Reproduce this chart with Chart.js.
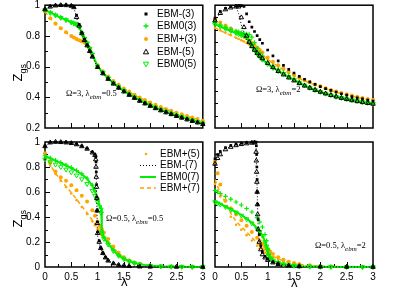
<!DOCTYPE html>
<html>
<head>
<meta charset="utf-8">
<script src="https://cdn.jsdelivr.net/npm/chart.js@4.4.1/dist/chart.umd.min.js"></script>
<style>
  body { margin: 0; background: #fff; }
  #wrap { position: relative; width: 411px; height: 291px; background: #fff; overflow: hidden; }
  canvas { position: absolute; }
  .txt { position: absolute; white-space: nowrap; color: #000; }
  .lg { position: absolute; height: 12px; font: 10px "Liberation Sans", Arial, sans-serif; line-height: 12px; white-space: nowrap; }
  .lg svg { position: absolute; top: 0; left: 0; }
  .lg span { position: absolute; top: 0; white-space: nowrap; }
  .ann { font: 8.5px "Liberation Serif", "Times New Roman", serif; }
  .ann sub { font-size: 7px; font-style: italic; vertical-align: -3px; }
  .ztitle { font: 13px "Liberation Sans", Arial, sans-serif; transform: rotate(-90deg); transform-origin: center; }
  .ztitle sub { font-size: 9px; }
  .lam { font: 13px "Liberation Sans", Arial, sans-serif; }
</style>
</head>
<body>
<div id="wrap">
  <canvas id="cA" width="208" height="134" style="left:0;top:0"></canvas>
  <canvas id="cB" width="203" height="134" style="left:208px;top:0"></canvas>
  <canvas id="cC" width="208" height="157" style="left:0;top:134px"></canvas>
  <canvas id="cD" width="203" height="157" style="left:208px;top:134px"></canvas>

  <div class="txt ztitle" style="left:10px;top:64px">Z<sub>gs</sub></div>
  <div class="txt ztitle" style="left:10px;top:210px">Z<sub>gs</sub></div>
  <div class="txt lam" style="left:121px;top:274px">λ</div>
  <div class="txt lam" style="left:291px;top:275px">λ</div>

  <div class="txt ann" style="left:66px;top:88px">Ω=3, λ<sub>ebm</sub>=0.5</div>
  <div class="txt ann" style="left:256px;top:84px">Ω=3, λ<sub>ebm</sub>=2</div>
  <div class="txt ann" style="left:106px;top:213px">Ω=0.5, λ<sub>ebm</sub>=0.5</div>
  <div class="txt ann" style="left:315px;top:240px">Ω=0.5, λ<sub>ebm</sub>=2</div>

  <div class="lg" style="left:140px;top:8px"><svg width="12" height="12"><rect x="4.5" y="4.5" width="3" height="3" fill="#000"/></svg><span style="left:17px">EBM-(3)</span></div>
  <div class="lg" style="left:140px;top:20px"><svg width="12" height="12"><path d="M6 3.5V8.5M3.5 6H8.5" stroke="#00ee00" stroke-width="1.3"/></svg><span style="left:17px">EBM0(3)</span></div>
  <div class="lg" style="left:140px;top:33px"><svg width="12" height="12"><circle cx="6" cy="6" r="2" fill="#ffa500"/></svg><span style="left:17px">EBM+(3)</span></div>
  <div class="lg" style="left:140px;top:46px"><svg width="12" height="12"><path d="M6 3.2L8.6 7.8H3.4Z" fill="none" stroke="#000" stroke-width="1"/></svg><span style="left:17px">EBM-(5)</span></div>
  <div class="lg" style="left:140px;top:58px"><svg width="12" height="12"><path d="M6 8.8L8.6 4.2H3.4Z" fill="none" stroke="#00ee00" stroke-width="1"/></svg><span style="left:17px">EBM0(5)</span></div>

  <div class="lg" style="left:138px;top:148px"><svg width="20" height="12"><circle cx="8" cy="6" r="1.3" fill="#ffa500"/></svg><span style="left:22px">EBM+(5)</span></div>
  <div class="lg" style="left:138px;top:159px"><svg width="20" height="12"><path d="M2 6.5H18" stroke="#000" stroke-width="1" stroke-dasharray="1,2"/></svg><span style="left:22px">EBM-(7)</span></div>
  <div class="lg" style="left:138px;top:171px"><svg width="20" height="12"><path d="M2 6H18" stroke="#00ee00" stroke-width="2"/></svg><span style="left:22px">EBM0(7)</span></div>
  <div class="lg" style="left:138px;top:182px"><svg width="20" height="12"><path d="M2 6H18" stroke="#ffa500" stroke-width="1.5" stroke-dasharray="4,3"/></svg><span style="left:22px">EBM+(7)</span></div>
</div>

<script>
// ---- data ----
// top-left: Omega=3, lambda_ebm=0.5
const lamA = [0,0.1,0.2,0.3,0.4,0.5,0.55,0.6,0.65,0.7,0.75,0.8,0.85,0.9,1,1.1,1.2,1.3,1.4,1.5,1.6,1.7,1.8,1.9,2,2.1,2.2,2.3,2.4,2.5,2.6,2.7,2.8,2.9,3];
const aM3 = [0.975,0.993,0.998,1,1,0.997,0.99,0.935,0.875,0.822,0.777,0.742,0.703,0.667,0.598,0.557,0.521,0.49,0.463,0.439,0.417,0.397,0.378,0.361,0.345,0.33,0.316,0.303,0.291,0.279,0.268,0.257,0.247,0.237,0.227];
const aM5 = [0.972,0.99,0.997,1,0.999,0.995,0.986,0.922,0.866,0.816,0.772,0.737,0.7,0.664,0.596,0.555,0.519,0.488,0.461,0.437,0.415,0.395,0.376,0.359,0.343,0.328,0.314,0.301,0.289,0.277,0.266,0.255,0.245,0.235,0.225];
const aM7 = [0.972,0.99,0.997,0.999,0.999,0.994,0.984,0.918,0.862,0.813,0.77,0.735,0.698,0.662,0.597,0.556,0.52,0.489,0.462,0.438,0.416,0.396,0.377,0.36,0.344,0.329,0.315,0.302,0.29,0.278,0.267,0.256,0.246,0.236,0.226];
const a03 = [0.97,0.953,0.937,0.921,0.906,0.891,0.884,0.877,0.865,0.822,0.787,0.757,0.722,0.685,0.603,0.562,0.526,0.495,0.468,0.444,0.422,0.402,0.383,0.366,0.35,0.335,0.321,0.308,0.296,0.284,0.273,0.262,0.252,0.242,0.232];
const a05 = [0.968,0.95,0.934,0.918,0.903,0.888,0.881,0.873,0.857,0.815,0.782,0.752,0.717,0.68,0.601,0.56,0.524,0.493,0.466,0.442,0.42,0.4,0.381,0.364,0.348,0.333,0.319,0.306,0.294,0.282,0.271,0.26,0.25,0.24,0.23];
const a07 = [0.968,0.951,0.935,0.919,0.904,0.889,0.882,0.874,0.86,0.818,0.784,0.754,0.719,0.682,0.602,0.561,0.525,0.494,0.467,0.443,0.421,0.401,0.382,0.365,0.349,0.334,0.32,0.307,0.295,0.283,0.272,0.261,0.251,0.241,0.231];
const aP3 = [0.96,0.915,0.88,0.85,0.823,0.8,0.79,0.78,0.772,0.765,0.757,0.742,0.71,0.675,0.608,0.57,0.536,0.507,0.481,0.458,0.437,0.417,0.399,0.382,0.366,0.351,0.337,0.324,0.312,0.3,0.289,0.278,0.268,0.258,0.248];
const aP5 = [0.958,0.912,0.877,0.847,0.82,0.797,0.787,0.777,0.768,0.76,0.752,0.735,0.705,0.672,0.605,0.567,0.533,0.504,0.478,0.455,0.434,0.414,0.396,0.379,0.363,0.348,0.334,0.321,0.309,0.297,0.286,0.275,0.265,0.255,0.245];
const aP7 = [0.958,0.913,0.878,0.848,0.821,0.798,0.788,0.778,0.77,0.762,0.754,0.738,0.707,0.673,0.606,0.568,0.534,0.505,0.479,0.456,0.435,0.415,0.397,0.38,0.364,0.349,0.335,0.322,0.31,0.298,0.287,0.276,0.266,0.256,0.246];

// top-right: Omega=3, lambda_ebm=2
const lamB = [0,0.1,0.2,0.3,0.4,0.45,0.5,0.55,0.6,0.65,0.7,0.75,0.8,0.85,0.9,1,1.1,1.2,1.3,1.4,1.5,1.6,1.7,1.8,1.9,2,2.1,2.2,2.3,2.4,2.5,2.6,2.7,2.8,2.9,3];
const bM3 = [0.895,0.95,0.975,0.988,0.994,0.996,0.996,0.99,0.93,0.865,0.822,0.786,0.752,0.72,0.69,0.635,0.588,0.547,0.51,0.477,0.448,0.421,0.397,0.375,0.355,0.337,0.321,0.306,0.292,0.279,0.267,0.256,0.246,0.237,0.228,0.22];
const bM5 = [0.875,0.935,0.965,0.98,0.988,0.988,0.9,0.82,0.75,0.7,0.665,0.636,0.61,0.587,0.566,0.528,0.494,0.463,0.435,0.41,0.386,0.364,0.344,0.326,0.309,0.294,0.28,0.267,0.255,0.244,0.234,0.225,0.217,0.209,0.202,0.196];
const bM7 = [0.875,0.935,0.965,0.98,0.985,0.93,0.84,0.77,0.72,0.685,0.655,0.628,0.604,0.582,0.562,0.525,0.491,0.46,0.432,0.407,0.384,0.362,0.342,0.324,0.307,0.292,0.278,0.265,0.253,0.242,0.232,0.223,0.215,0.207,0.2,0.194];
const b03 = [0.86,0.84,0.822,0.805,0.79,0.783,0.776,0.77,0.765,0.76,0.74,0.695,0.65,0.615,0.585,0.535,0.505,0.478,0.452,0.425,0.398,0.372,0.35,0.331,0.313,0.297,0.283,0.27,0.258,0.248,0.239,0.231,0.223,0.215,0.208,0.2];
const b05 = [0.845,0.826,0.808,0.79,0.773,0.765,0.757,0.75,0.742,0.71,0.67,0.635,0.605,0.58,0.557,0.52,0.49,0.464,0.44,0.416,0.393,0.369,0.347,0.328,0.31,0.294,0.28,0.267,0.255,0.245,0.236,0.228,0.22,0.212,0.205,0.198];
const b07 = [0.845,0.826,0.808,0.79,0.773,0.765,0.757,0.749,0.74,0.712,0.672,0.637,0.607,0.581,0.558,0.521,0.491,0.465,0.441,0.417,0.393,0.369,0.347,0.328,0.31,0.294,0.28,0.267,0.255,0.245,0.236,0.228,0.22,0.212,0.205,0.198];
const bP3 = [0.885,0.86,0.835,0.81,0.785,0.772,0.76,0.745,0.73,0.712,0.695,0.675,0.655,0.635,0.615,0.575,0.54,0.51,0.482,0.456,0.432,0.41,0.39,0.372,0.355,0.339,0.324,0.31,0.297,0.285,0.274,0.264,0.254,0.245,0.236,0.228];
const bP5 = [0.815,0.795,0.775,0.755,0.735,0.725,0.715,0.705,0.693,0.68,0.665,0.648,0.63,0.612,0.595,0.56,0.53,0.502,0.476,0.451,0.428,0.406,0.386,0.368,0.351,0.335,0.32,0.306,0.293,0.281,0.27,0.26,0.25,0.241,0.232,0.224];
const bP7 = [0.815,0.794,0.774,0.754,0.734,0.724,0.714,0.703,0.692,0.679,0.664,0.647,0.629,0.611,0.594,0.559,0.529,0.501,0.475,0.45,0.427,0.405,0.385,0.367,0.35,0.334,0.319,0.305,0.292,0.28,0.269,0.259,0.249,0.24,0.231,0.223];

// bottom-left: Omega=0.5, lambda_ebm=0.5
const lamC = [0,0.1,0.2,0.3,0.4,0.5,0.6,0.7,0.8,0.9,0.95,1,1.04,1.07,1.08,1.12,1.2,1.3,1.4,1.5,1.6,1.7,1.8,2,2.2,2.4,2.6,2.8,3];
const lamCk = [0,0.1,0.2,0.3,0.4,0.5,0.6,0.7,0.8,0.9,0.95,0.965,0.97,0.975,0.98,0.985,0.99,0.995,1,1.03,1.06,1.1,1.15,1.2,1.3,1.4,1.5,1.6,1.8,2,2.5,3];
const cM3 = [0.97,0.997,1,0.999,0.996,0.991,0.982,0.968,0.948,0.92,0.9,0.88,0.84,0.76,0.66,0.56,0.45,0.36,0.28,0.21,0.155,0.112,0.077,0.052,0.029,0.017,0.01,0.006,0.003,0.002,0.001,0];
const cM5 = [0.965,0.995,1,0.998,0.995,0.99,0.98,0.965,0.945,0.915,0.895,0.86,0.8,0.72,0.64,0.55,0.45,0.35,0.27,0.2,0.15,0.11,0.075,0.05,0.028,0.016,0.01,0.006,0.003,0.002,0.001,0];
const cM7 = [0.965,0.994,0.999,0.998,0.994,0.989,0.979,0.964,0.944,0.914,0.893,0.85,0.78,0.7,0.6,0.5,0.4,0.32,0.25,0.19,0.145,0.105,0.072,0.048,0.027,0.015,0.009,0.005,0.003,0.002,0.001,0];
const c03 = [0.89,0.872,0.853,0.835,0.815,0.795,0.772,0.745,0.71,0.655,0.612,0.55,0.49,0.47,0.29,0.24,0.19,0.135,0.095,0.067,0.047,0.033,0.023,0.012,0.006,0.003,0.002,0.001,0.001];
const c05 = [0.86,0.84,0.82,0.8,0.78,0.758,0.733,0.703,0.665,0.61,0.57,0.52,0.46,0.43,0.27,0.225,0.18,0.128,0.09,0.063,0.044,0.03,0.021,0.01,0.005,0.003,0.002,0.001,0.001];
const c07 = [0.888,0.87,0.851,0.832,0.812,0.792,0.769,0.742,0.706,0.65,0.607,0.545,0.485,0.465,0.285,0.236,0.187,0.133,0.093,0.065,0.045,0.031,0.021,0.011,0.006,0.003,0.002,0.001,0.001];
const cP3 = [0.91,0.835,0.765,0.718,0.69,0.655,0.615,0.57,0.525,0.455,0.41,0.365,0.33,0.31,0.3,0.275,0.225,0.165,0.115,0.078,0.052,0.035,0.025,0.012,0.006,0.003,0.002,0.001,0.001];
const cP5 = [0.89,0.81,0.745,0.69,0.639,0.588,0.535,0.48,0.425,0.365,0.335,0.305,0.28,0.265,0.255,0.235,0.2,0.15,0.105,0.072,0.048,0.033,0.023,0.011,0.005,0.003,0.002,0.001,0.001];
const cP7 = [0.895,0.815,0.75,0.695,0.645,0.595,0.542,0.487,0.432,0.372,0.342,0.31,0.285,0.27,0.26,0.24,0.205,0.155,0.108,0.074,0.05,0.034,0.024,0.011,0.005,0.003,0.002,0.001,0.001];

// bottom-right: Omega=0.5, lambda_ebm=2
const lamD = [0,0.05,0.1,0.2,0.3,0.4,0.5,0.6,0.7,0.8,0.85,0.9,0.95,0.98,1,1.02,1.05,1.1,1.2,1.3,1.4,1.5,1.6,1.8,2,2.2,2.5,2.8,3];
const lamDk = [0,0.05,0.1,0.2,0.3,0.4,0.5,0.6,0.7,0.75,0.78,0.785,0.79,0.795,0.8,0.805,0.81,0.82,0.84,0.87,0.9,0.95,1,1.1,1.2,1.4,1.6,2,2.5,3];
const dM3 = [0.865,0.9,0.925,0.955,0.972,0.983,0.99,0.995,0.998,0.999,0.999,0.97,0.9,0.8,0.7,0.6,0.5,0.38,0.26,0.17,0.12,0.085,0.062,0.038,0.024,0.011,0.006,0.002,0.001,0];
const dM5 = [0.825,0.87,0.9,0.94,0.96,0.973,0.982,0.988,0.993,0.995,0.92,0.85,0.76,0.68,0.6,0.5,0.42,0.3,0.2,0.14,0.1,0.075,0.055,0.035,0.022,0.01,0.005,0.002,0.001,0];
const dM7 = [0.83,0.875,0.905,0.945,0.963,0.975,0.984,0.99,0.994,0.996,0.96,0.9,0.82,0.72,0.63,0.54,0.45,0.33,0.22,0.15,0.11,0.08,0.058,0.036,0.023,0.01,0.005,0.002,0.001,0];
const d03 = [0.612,0.6,0.588,0.565,0.543,0.52,0.496,0.468,0.44,0.395,0.36,0.32,0.26,0.21,0.15,0.1,0.075,0.055,0.035,0.024,0.016,0.011,0.008,0.004,0.002,0.001,0.001,0,0];
const d05 = [0.52,0.51,0.5,0.48,0.458,0.436,0.412,0.383,0.35,0.305,0.28,0.25,0.2,0.165,0.13,0.095,0.07,0.052,0.033,0.022,0.015,0.01,0.007,0.004,0.002,0.001,0.001,0,0];
const d07 = [0.525,0.515,0.505,0.484,0.462,0.44,0.416,0.387,0.354,0.31,0.285,0.255,0.205,0.17,0.13,0.095,0.07,0.052,0.033,0.022,0.015,0.01,0.007,0.004,0.002,0.001,0.001,0,0];
const dP3 = [0.84,0.75,0.66,0.53,0.47,0.42,0.375,0.33,0.28,0.235,0.21,0.185,0.163,0.15,0.142,0.134,0.122,0.105,0.078,0.058,0.043,0.032,0.024,0.014,0.008,0.005,0.002,0.001,0];
const dP5 = [0.665,0.61,0.565,0.48,0.402,0.338,0.298,0.255,0.212,0.17,0.15,0.132,0.115,0.106,0.1,0.094,0.087,0.076,0.058,0.044,0.033,0.025,0.019,0.011,0.006,0.004,0.002,0.001,0];
const dP7 = [0.7,0.645,0.598,0.51,0.43,0.365,0.322,0.28,0.236,0.193,0.172,0.152,0.133,0.123,0.116,0.109,0.1,0.086,0.065,0.049,0.037,0.028,0.021,0.012,0.007,0.004,0.002,0.001,0];

// ---- styles ----
const green = '#00ee00';
const orange = '#ffa500';
const clear = 'rgba(0,0,0,0)';
const looks = {
  'EBM-(3)': { pointStyle: 'rect', pointRadius: 1.9, pointBackgroundColor: '#000', pointBorderColor: '#000', pointBorderWidth: 0 },
  'EBM-(5)': { pointStyle: 'triangle', pointRadius: 2.6, pointBackgroundColor: clear, pointBorderColor: '#000', pointBorderWidth: 1 },
  'EBM-(7)': { showLine: true, pointRadius: 0, borderColor: '#000', borderWidth: 1, borderDash: [1, 2] },
  'EBM0(3)': { pointStyle: 'cross', pointRadius: 2.3, pointBorderColor: green, pointBorderWidth: 1.2 },
  'EBM0(5)': { pointStyle: 'triangle', pointRotation: 180, pointRadius: 2.6, pointBackgroundColor: clear, pointBorderColor: green, pointBorderWidth: 1 },
  'EBM0(7)': { showLine: true, pointRadius: 0, borderColor: green, borderWidth: 2 },
  'EBM+(3)': { pointStyle: 'circle', pointRadius: 2, pointBackgroundColor: orange, pointBorderColor: orange, pointBorderWidth: 0 },
  'EBM+(5)': { pointStyle: 'circle', pointRadius: 1.3, pointBackgroundColor: orange, pointBorderColor: orange, pointBorderWidth: 0 },
  'EBM+(7)': { showLine: true, pointRadius: 0, borderColor: orange, borderWidth: 1.5, borderDash: [4, 3] }
};

function pts(xs, ys) {
  return xs.map((x, i) => ({ x: x, y: ys[i] }));
}

// tick labels like the original: 1 not 1.0, 0 not 0.0
function plain(v) {
  return String(Number(v.toFixed(2)));
}

// frame with inward ticks, like the original plotting program
const framePlugin = {
  id: 'frame',
  beforeDatasetsDraw(chart, args, opts) {
    const ctx = chart.ctx, a = chart.chartArea;
    const xs = chart.scales.x, ys = chart.scales.y;
    ctx.save();
    ctx.strokeStyle = '#000';
    ctx.lineWidth = 1;
    ctx.beginPath();
    for (let i = 1; i < 12; i++) {
      const v = i * 0.25;
      const px = Math.round(xs.getPixelForValue(v)) + 0.5;
      const len = i % 2 === 0 ? 5 : 3;
      ctx.moveTo(px, a.bottom);
      ctx.lineTo(px, a.bottom - len);
    }
    for (let i = 1; i < opts.nY; i++) {
      const v = ys.min + i * opts.yStep;
      const py = Math.round(ys.getPixelForValue(v)) + 0.5;
      const len = (opts.yMajorEvery && i % opts.yMajorEvery === 0) ? 5 : 3;
      ctx.moveTo(a.left, py);
      ctx.lineTo(a.left + len, py);
    }
    ctx.stroke();
    ctx.lineWidth = 1.5;
    ctx.strokeRect(a.left, a.top, a.right - a.left, a.bottom - a.top);
    ctx.restore();
  }
};

function makePanel(id, sets, cfg) {
  const datasets = sets.map(s => Object.assign({
    label: s[0],
    data: pts(s[1], s[2]),
    showLine: false,
    tension: 0,
    clip: 3
  }, looks[s[0]]));
  const tickFont = { family: '"Liberation Sans", Arial, sans-serif', size: 10 };
  return new Chart(document.getElementById(id), {
    type: 'scatter',
    data: { datasets: datasets },
    options: {
      responsive: false,
      animation: false,
      events: [],
      layout: { padding: cfg.pad },
      plugins: {
        legend: { display: false },
        tooltip: { enabled: false },
        frame: cfg.frame
      },
      scales: {
        x: {
          type: 'linear', min: 0, max: 3,
          display: cfg.showX,
          grid: { display: false, drawTicks: false },
          border: { display: false },
          ticks: { stepSize: 0.5, padding: 4, color: '#000', font: tickFont, maxRotation: 0, callback: plain },
          afterFit(s) { if (cfg.showX) { s.height = 24; s.paddingLeft = 0; s.paddingRight = 0; } }
        },
        y: {
          type: 'linear', min: cfg.ymin, max: 1,
          display: cfg.showY,
          grid: { display: false, drawTicks: false },
          border: { display: false },
          ticks: { stepSize: 0.2, padding: 5, color: '#000', font: tickFont, callback: plain },
          afterFit(s) { if (cfg.showY) { s.width = 45; s.paddingTop = 0; s.paddingBottom = 0; } }
        }
      }
    },
    plugins: [framePlugin]
  });
}

// black first so it is drawn on top
makePanel('cA', [
  ['EBM-(3)', lamA, aM3], ['EBM-(5)', lamA, aM5], ['EBM-(7)', lamA, aM7],
  ['EBM0(3)', lamA, a03], ['EBM0(5)', lamA, a05], ['EBM0(7)', lamA, a07],
  ['EBM+(3)', lamA, aP3], ['EBM+(5)', lamA, aP5], ['EBM+(7)', lamA, aP7]
], { pad: { top: 3, right: 5, bottom: 6, left: 0 }, ymin: 0.2, showX: false, showY: true,
     frame: { nY: 8, yStep: 0.1, yMajorEvery: 2 } });

makePanel('cB', [
  ['EBM-(3)', lamB, bM3], ['EBM-(5)', lamB, bM5], ['EBM-(7)', lamB, bM7],
  ['EBM0(3)', lamB, b03], ['EBM0(5)', lamB, b05], ['EBM0(7)', lamB, b07],
  ['EBM+(3)', lamB, bP3], ['EBM+(5)', lamB, bP5], ['EBM+(7)', lamB, bP7]
], { pad: { top: 3, right: 38, bottom: 6, left: 7 }, ymin: 0, showX: false, showY: false,
     frame: { nY: 10, yStep: 0.1, yMajorEvery: 0 } });

makePanel('cC', [
  ['EBM-(3)', lamCk, cM3], ['EBM-(5)', lamCk, cM5], ['EBM-(7)', lamCk, cM7],
  ['EBM0(3)', lamC, c03], ['EBM0(5)', lamC, c05], ['EBM0(7)', lamC, c07],
  ['EBM+(3)', lamC, cP3], ['EBM+(5)', lamC, cP5], ['EBM+(7)', lamC, cP7]
], { pad: { top: 8, right: 5, bottom: 0, left: 0 }, ymin: 0, showX: true, showY: true,
     frame: { nY: 10, yStep: 0.1, yMajorEvery: 2 } });

makePanel('cD', [
  ['EBM-(3)', lamDk, dM3], ['EBM-(5)', lamDk, dM5], ['EBM-(7)', lamDk, dM7],
  ['EBM0(3)', lamD, d03], ['EBM0(5)', lamD, d05], ['EBM0(7)', lamD, d07],
  ['EBM+(3)', lamD, dP3], ['EBM+(5)', lamD, dP5], ['EBM+(7)', lamD, dP7]
], { pad: { top: 8, right: 38, bottom: 0, left: 7 }, ymin: 0, showX: true, showY: false,
     frame: { nY: 10, yStep: 0.1, yMajorEvery: 0 } });
</script>
</body>
</html>
